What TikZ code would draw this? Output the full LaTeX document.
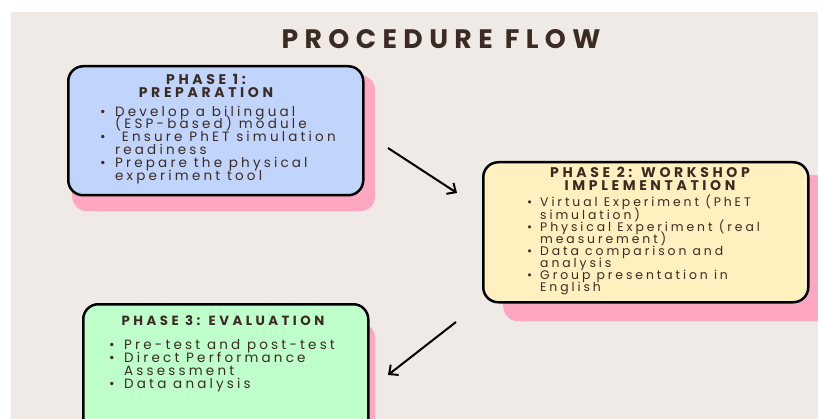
\documentclass[tikz,border=0pt]{standalone}
\usepackage{fontspec}
\setmainfont{Poppins}
\newfontfamily\bodyf{Poppins}[LetterSpace=23.5]
\newfontfamily\headf{Poppins}[LetterSpace=26]
\newfontfamily\titlef{Poppins}[LetterSpace=24]
\usetikzlibrary{arrows.meta}
\definecolor{bgc}{HTML}{EFEAE6}
\definecolor{pinkc}{HTML}{FFA6C0}
\definecolor{bluec}{HTML}{C1D4FC}
\definecolor{yellowc}{HTML}{FFF0BF}
\definecolor{greenc}{HTML}{BFFFCC}
\definecolor{textc}{HTML}{3B2B22}
\newcommand\bul[1][15pt]{\smash{\makebox[#1][l]{\textbullet}}}
\newcommand\lineitem[1]{\smash{#1}}
\tikzset{
  phasebox/.style={draw=black, line width=2.5pt, rounded corners=15pt, anchor=north west, inner sep=0pt},
  shadowbox/.style={fill=pinkc, rounded corners=15pt, anchor=north west, inner sep=0pt},
  headtext/.style={text=textc, align=center, inner sep=0pt},
  listtext/.style={text=textc, inner sep=0pt, anchor=north west},
  flowarrow/.style={line width=2pt, -{Straight Barb[length=7pt,width=13pt]}}
}
\begin{document}
\begin{tikzpicture}[x=1pt,y=-1pt]
\useasboundingbox (0,0) rectangle (818,419);
\fill[white] (0,0) rectangle (818,419);
\begin{scope}
\clip (0,0) rectangle (818,419);
\fill[bgc] (11,12) rectangle (818,419);
% title
\node[text=textc, font=\titlef\bfseries\fontsize{26.7}{26}\selectfont, inner sep=0pt] (title) at (441,39) {PROCEDURE FLOW};
% shadows
\node[shadowbox, minimum width=303pt, minimum height=136pt] (s1) at (72,75) {};
\node[shadowbox, minimum width=327pt, minimum height=146pt] (s2) at (503,175) {};
\node[shadowbox, minimum width=285pt, minimum height=130pt] (s3) at (90,323) {};
% boxes
\node[phasebox, fill=bluec, minimum width=295pt, minimum height=129pt] (p1) at (67,65) {};
\node[phasebox, fill=yellowc, minimum width=325pt, minimum height=140pt] (p2) at (482,161) {};
\node[phasebox, fill=greenc, minimum width=285pt, minimum height=135pt] (p3) at (82,303) {};
% headings
\node[headtext, font=\headf\bfseries\fontsize{14}{12.6}\selectfont] (h1) at (206,86) {PHASE 1:\\PREPARATION};
\node[headtext, font=\headf\bfseries\fontsize{14}{12.6}\selectfont] (h2) at (650,179) {PHASE 2: WORKSHOP\\IMPLEMENTATION};
\node[headtext, font=\headf\bfseries\fontsize{13.3}{12}\selectfont] (h3) at (223,321) {PHASE 3: EVALUATION};
% lists
\node[listtext, font=\bodyf\fontsize{13.5}{12.8}\selectfont] (l1) at (100,107) {%
\begin{tabular}{@{}l@{}l@{}}
\bul & \lineitem{Develop a bilingual}\\
 & \lineitem{(ESP-based) module}\\
\bul & \lineitem{\ Ensure PhET simulation}\\
 & \lineitem{readiness}\\
\bul & \lineitem{Prepare the physical}\\
 & \lineitem{experiment tool}
\end{tabular}};
\node[listtext, font=\bodyf\fontsize{12.4}{12.14}\selectfont] (l2) at (527,198.2) {%
\begin{tabular}{@{}l@{}l@{}}
\bul[13pt] & \lineitem{Virtual Experiment (PhET}\\
 & \lineitem{simulation)}\\
\bul[13pt] & \lineitem{Physical Experiment (real}\\
 & \lineitem{measurement)}\\
\bul[13pt] & \lineitem{Data comparison and}\\
 & \lineitem{analysis}\\
\bul[13pt] & \lineitem{Group presentation in}\\
 & \lineitem{English}
\end{tabular}};
\node[listtext, font=\bodyf\fontsize{13.5}{13}\selectfont] (l3) at (109,339.9) {%
\begin{tabular}{@{}l@{}l@{}}
\bul & \lineitem{Pre-test and post-test}\\
\bul & \lineitem{Direct Performance}\\
 & \lineitem{Assessment}\\
\bul & \lineitem{Data analysis}
\end{tabular}};
% arrows
\coordinate (a1s) at (388,148);
\coordinate (a1e) at (457,193);
\coordinate (a2s) at (456,322);
\coordinate (a2e) at (388,375);
\draw[flowarrow] (a1s) -- (a1e);
\draw[flowarrow] (a2s) -- (a2e);
\end{scope}
\end{tikzpicture}
\end{document}
